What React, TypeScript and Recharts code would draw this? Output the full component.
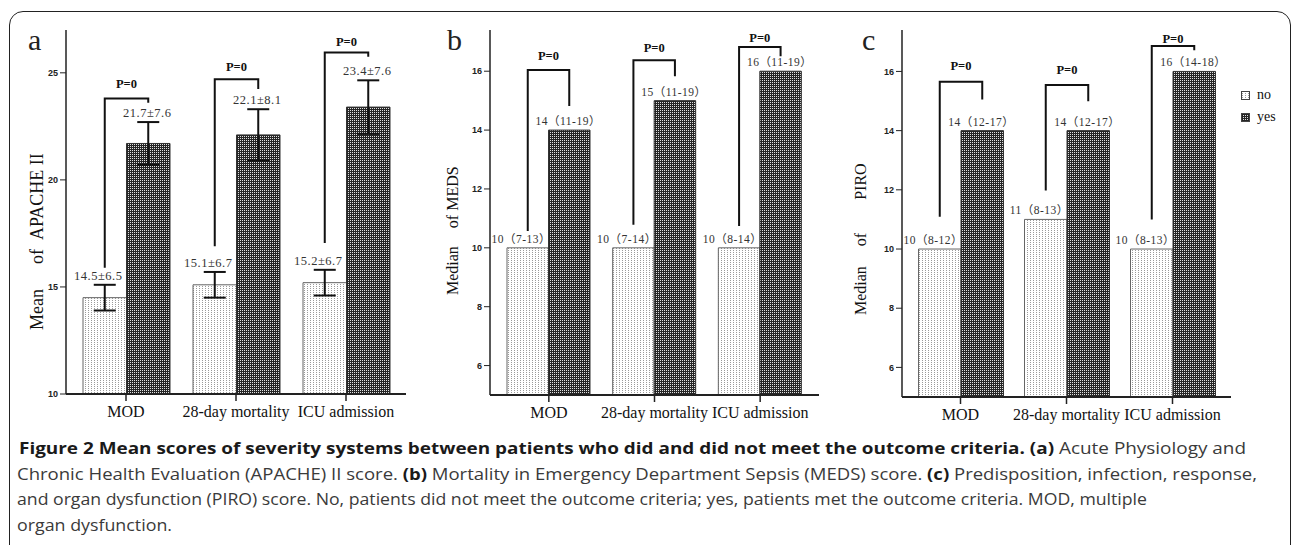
import React from 'react';
import { Bar, BarChart, ErrorBar, LabelList, Legend, XAxis, YAxis } from 'recharts';

const categories = ['MOD', '28-day mortality', 'ICU admission'];
const pText = 'P=0';

// (a) APACHE II, mean with error bars
const apacheNo = [14.5, 15.1, 15.2];
const apacheYes = [21.7, 22.1, 23.4];
const apacheNoErr = [0.6, 0.6, 0.6];
const apacheYesErr = [1.0, 1.2, 1.25];
const apacheNoText = ['14.5±6.5', '15.1±6.7', '15.2±6.7'];
const apacheYesText = ['21.7±7.6', '22.1±8.1', '23.4±7.6'];
// bracket levels, in score units
const apacheBracketTop = [23.8, 24.7, 25.95];
const apacheBracketNoEnd = [15.9, 16.9, 17.05];
const apacheBracketYesEnd = [23.6, 24.25, 25.75];
const apachePLevel = [24.5, 25.3, 26.45];
const apacheTicks = [10, 15, 20, 25];

// (b) MEDS, median (IQR)
const medsNo = [10, 10, 10];
const medsYes = [14, 15, 16];
const medsNoText = ['10（7-13）', '10（7-14）', '10（8-14）'];
const medsYesText = ['14（11-19）', '15（11-19）', '16（11-19）'];
const medsBracketTop = [16.04, 16.37, 16.82];
const medsBracketNoEnd = [10.57, 10.78, 10.74];
const medsBracketYesEnd = [14.82, 15.83, 16.51];
const medsPLevel = [16.54, 16.81, 17.13];

// (c) PIRO, median (IQR)
const piroNo = [10, 11, 10];
const piroYes = [14, 14, 16];
const piroNoText = ['10（8-12）', '11（8-13）', '10（8-13）'];
const piroYesText = ['14（12-17）', '14（12-17）', '16（14-18）'];
const piroBracketTop = [15.65, 15.54, 16.86];
const piroBracketNoEnd = [11.09, 11.98, 11.0];
const piroBracketYesEnd = [15.05, 14.99, 16.72];
const piroPLevel = [16.18, 16.07, 17.12];

const medianTicks = [6, 8, 10, 12, 14, 16];

const serif = '"Liberation Serif", "Times New Roman", serif';
const cjkSerif = '"Liberation Serif", "Noto Sans CJK SC", serif';
const sans = '"Liberation Sans", Arial, sans-serif';
const captionFont = '"Open Sans", "Noto Sans", sans-serif';

type PanelProps = {
  no: number[];
  yes: number[];
  noErr?: number[];
  yesErr?: number[];
  noText: string[];
  yesText: string[];
  top: number[];
  noEnd: number[];
  yesEnd: number[];
  pLevel: number[];
  domain: [number, number];
  ticks: number[];
  left: number;
  width: number;
  margin: { top: number; right: number; bottom: number; left: number };
  yWidth: number;
  xHeight: number;
  barSize: number;
  pad: number;
  title: string[];
  titleGaps: number[];
  titleX: number;
  titleY: number;
  titleSize: number;
  noteSize: number;
  legend?: boolean;
};

const renderLegend = (props: any) => (
  <div style={{ fontFamily: serif, fontSize: 14, color: '#111' }}>
    {(props.payload ?? []).map((e: any) => (
      <div key={e.value} style={{ display: 'flex', alignItems: 'center', height: 22 }}>
        <svg width={9} height={9} style={{ marginRight: 7 }}>
          <rect x={0.5} y={0.5} width={8} height={8} fill={e.color} stroke="#444" />
        </svg>
        <span>{e.value}</span>
      </div>
    ))}
  </div>
);

function ScorePanel(p: PanelProps) {
  const data = categories.map((cat, i) => ({
    cat,
    idx: i,
    no: p.no[i],
    yes: p.yes[i],
    noErr: p.noErr ? p.noErr[i] : undefined,
    yesErr: p.yesErr ? p.yesErr[i] : undefined,
  }));
  const yMin = p.domain[0];

  // bracket, P label and value labels, placed from the "no" bar geometry
  const notes = (props: any) => {
    const vb = props.viewBox ?? props;
    const i = Number(props.value);
    const v = p.no[i];
    const ppu = vb.height / (v - yMin);
    const base = vb.y + vb.height;
    const py = (val: number) => base - (val - yMin) * ppu;
    const lx = vb.x + vb.width / 2;
    const rx = vb.x + vb.width * 1.5;
    const noTop = v + (p.noErr ? p.noErr[i] : 0);
    const yesTop = p.yes[i] + (p.yesErr ? p.yesErr[i] : 0);
    return (
      <g key={`note-${i}`}>
        <path
          d={`M${lx},${py(p.noEnd[i])}V${py(p.top[i])}H${rx}V${py(p.yesEnd[i])}`}
          fill="none"
          stroke="#111"
          strokeWidth={2}
        />
        <text x={(lx + rx) / 2} y={py(p.pLevel[i])} dy="0.35em" textAnchor="middle" fontFamily={serif} fontWeight="bold" fontSize={12.5} fill="#111">
          {pText}
        </text>
        <text x={lx - 6.5} y={py(noTop) - 5} textAnchor="middle" fontFamily={cjkSerif} fontSize={p.noteSize} fill="#333" letterSpacing={0.5}>
          {p.noText[i]}
        </text>
        <text x={rx - 1} y={py(yesTop) - 5} textAnchor="middle" fontFamily={cjkSerif} fontSize={p.noteSize} fill="#333" letterSpacing={0.5}>
          {p.yesText[i]}
        </text>
      </g>
    );
  };

  const title = () => (
    <text
      transform={`rotate(-90 ${p.titleX} ${p.titleY})`}
      x={p.titleX}
      y={p.titleY}
      dominantBaseline="central"
      fontFamily={serif}
      fontSize={p.titleSize}
      fill="#111"
    >
      {p.title.map((w, k) => (
        <tspan key={k} dx={k ? p.titleGaps[k - 1] : 0}>
          {w}
        </tspan>
      ))}
    </text>
  );

  return (
    <div style={{ position: 'absolute', left: p.left, top: 0 }}>
      <BarChart width={p.width} height={440} data={data} margin={p.margin} barGap={0} barSize={p.barSize}>
        <XAxis
          dataKey="cat"
          interval={0}
          height={p.xHeight}
          tickSize={7}
          tickMargin={5}
          padding={{ left: p.pad, right: p.pad }}
          axisLine={{ stroke: '#222', strokeWidth: 2 }}
          tickLine={{ stroke: '#222', strokeWidth: 1.5 }}
          tick={{ fontFamily: serif, fontSize: 16, fill: '#111' }}
        />
        <XAxis xAxisId="top" orientation="top" height={0} tick={false} tickLine={false} axisLine={{ stroke: '#444', strokeWidth: 1.5 }} />
        <YAxis
          type="number"
          domain={p.domain}
          ticks={p.ticks}
          width={p.yWidth}
          allowDataOverflow
          tickSize={6}
          tickMargin={2}
          axisLine={{ stroke: '#222', strokeWidth: 1.5 }}
          tickLine={{ stroke: '#222' }}
          tick={{ fontFamily: sans, fontWeight: 'bold', fontSize: 9, fill: '#222' }}
          label={title}
        />
        <YAxis yAxisId="right" orientation="right" width={0} tick={false} tickLine={false} axisLine={{ stroke: '#444', strokeWidth: 1.5 }} />
        <Bar dataKey="no" name="no" fill="url(#patNo)" stroke="#666" strokeWidth={1} isAnimationActive={false}>
          {p.noErr && <ErrorBar dataKey="noErr" width={11} stroke="#111" strokeWidth={2} direction="y" />}
          <LabelList dataKey="idx" content={notes} />
        </Bar>
        <Bar dataKey="yes" name="yes" fill="url(#patYes)" stroke="#333" strokeWidth={1} isAnimationActive={false}>
          {p.yesErr && <ErrorBar dataKey="yesErr" width={11} stroke="#111" strokeWidth={2} direction="y" />}
        </Bar>
        {p.legend && (
          <Legend
            layout="vertical"
            align="center"
            verticalAlign="middle"
            wrapperStyle={{ left: 401, top: 84, width: 60 }}
            content={renderLegend}
          />
        )}
      </BarChart>
    </div>
  );
}

export default function App() {
  return (
    <div style={{ position: 'absolute', left: 0, top: 0, width: 1292, height: 545, overflow: 'hidden', background: '#fff' }}>
      <svg width={0} height={0} style={{ position: 'absolute' }}>
        <defs>
          <pattern id="patNo" width={3} height={2} patternUnits="userSpaceOnUse">
            <rect width={3} height={2} fill="#fff" />
            <rect x={1} y={0} width={1} height={1} fill="#9a9a9a" />
          </pattern>
          <pattern id="patYes" width={2} height={2} patternUnits="userSpaceOnUse">
            <rect width={2} height={2} fill="#252525" />
            <rect width={1} height={1} fill="#e0e0e0" />
          </pattern>
        </defs>
      </svg>
      <div
        style={{
          position: 'absolute',
          left: 9,
          top: 11,
          width: 1282,
          height: 600,
          boxSizing: 'border-box',
          border: '1.5px solid #222',
          borderRadius: 14,
        }}
      />
      <ScorePanel
        no={apacheNo}
        yes={apacheYes}
        noErr={apacheNoErr}
        yesErr={apacheYesErr}
        noText={apacheNoText}
        yesText={apacheYesText}
        top={apacheBracketTop}
        noEnd={apacheBracketNoEnd}
        yesEnd={apacheBracketYesEnd}
        pLevel={apachePLevel}
        domain={[10, 27]}
        ticks={apacheTicks}
        left={0}
        width={420}
        margin={{ top: 30, right: 14, bottom: 0, left: 10 }}
        yWidth={56}
        xHeight={46}
        barSize={43.5}
        pad={5}
        title={['Mean', 'of', 'APACHE II']}
        titleGaps={[25, 9]}
        titleX={37}
        titleY={330}
        titleSize={18}
        noteSize={12.5}
      />
      <ScorePanel
        no={medsNo}
        yes={medsYes}
        noText={medsNoText}
        yesText={medsYesText}
        top={medsBracketTop}
        noEnd={medsBracketNoEnd}
        yesEnd={medsBracketYesEnd}
        pLevel={medsPLevel}
        domain={[5, 17.4]}
        ticks={medianTicks}
        left={420}
        width={420}
        margin={{ top: 30, right: 21, bottom: 0, left: 10 }}
        yWidth={60}
        xHeight={45}
        barSize={41.5}
        pad={6}
        title={['Median', 'of', 'MEDS']}
        titleGaps={[18, 4]}
        titleX={32}
        titleY={295}
        titleSize={16}
        noteSize={11.5}
      />
      <ScorePanel
        no={piroNo}
        yes={piroYes}
        noText={piroNoText}
        yesText={piroYesText}
        top={piroBracketTop}
        noEnd={piroBracketNoEnd}
        yesEnd={piroBracketYesEnd}
        pLevel={piroPLevel}
        domain={[5, 17.4]}
        ticks={medianTicks}
        left={840}
        width={452}
        margin={{ top: 30, right: 61, bottom: 0, left: 10 }}
        yWidth={52}
        xHeight={43}
        barSize={42.5}
        pad={5.5}
        title={['Median', 'of', 'PIRO']}
        titleGaps={[20, 33]}
        titleX={20}
        titleY={315}
        titleSize={16}
        noteSize={11.5}
        legend
      />
      <svg width={1292} height={545} style={{ position: 'absolute', left: 0, top: 0, pointerEvents: 'none' }}>
        <g fontFamily={serif} fontSize={30} fill="#222">
          <text x={28} y={50}>a</text>
          <text x={447} y={50}>b</text>
          <text x={862} y={50}>c</text>
        </g>
        <g fontFamily={captionFont} fontSize={16} fill="#3a3a3a">
          <text x={19} y={454} textLength={1227} lengthAdjust="spacingAndGlyphs">
            <tspan fontWeight="bold" fill="#1a1a1a">
              Figure 2 Mean scores of severity systems between patients who did and did not meet the outcome criteria.
            </tspan>{' '}
            <tspan fontWeight="bold" fill="#1a1a1a">(a)</tspan> Acute Physiology and
          </text>
          <text x={17} y={479.5} textLength={1240} lengthAdjust="spacingAndGlyphs">
            Chronic Health Evaluation (APACHE) II score. <tspan fontWeight="bold" fill="#1a1a1a">(b)</tspan> Mortality in Emergency
            Department Sepsis (MEDS) score. <tspan fontWeight="bold" fill="#1a1a1a">(c)</tspan> Predisposition, infection, response,
          </text>
          <text x={17} y={505} textLength={1130} lengthAdjust="spacingAndGlyphs">
            and organ dysfunction (PIRO) score. No, patients did not meet the outcome criteria; yes, patients met the outcome criteria. MOD, multiple
          </text>
          <text x={17} y={530.5} textLength={155} lengthAdjust="spacingAndGlyphs">
            organ dysfunction.
          </text>
        </g>
      </svg>
    </div>
  );
}
